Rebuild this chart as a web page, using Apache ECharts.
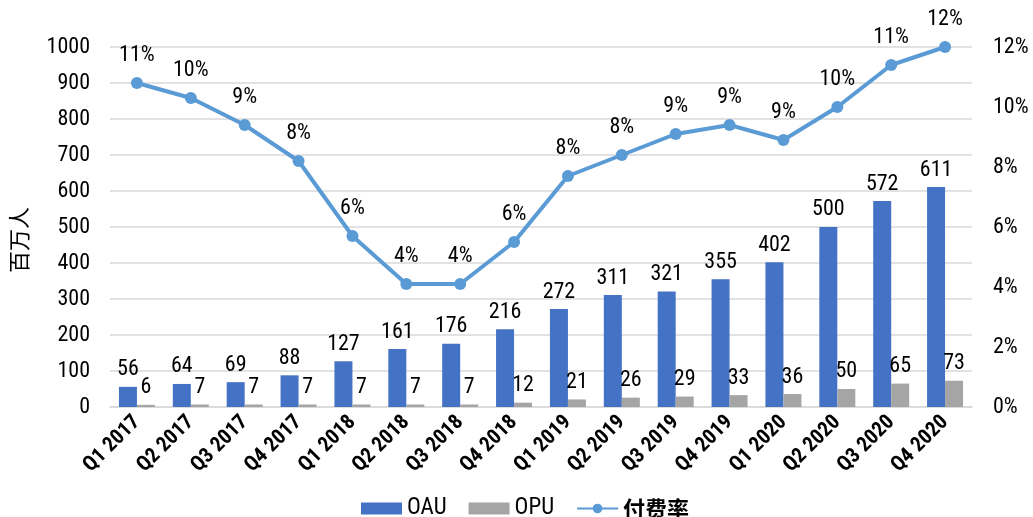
<!DOCTYPE html>
<html>
<head>
<meta charset="utf-8">
<script src="https://cdn.jsdelivr.net/npm/echarts@6/dist/echarts.min.js"></script>
<style>
  html, body { margin: 0; padding: 0; background: #fff; }
  #chart { width: 1033px; height: 517px; }
</style>
</head>
<body>
<div id="chart"></div>
<script>
// Quarterly users (millions) and paying ratio
const quarters = ['Q1 2017','Q2 2017','Q3 2017','Q4 2017','Q1 2018','Q2 2018','Q3 2018','Q4 2018',
                  'Q1 2019','Q2 2019','Q3 2019','Q4 2019','Q1 2020','Q2 2020','Q3 2020','Q4 2020'];
const oau = [56, 64, 69, 88, 127, 161, 176, 216, 272, 311, 321, 355, 402, 500, 572, 611];
const opu = [6, 7, 7, 7, 7, 7, 7, 12, 21, 26, 29, 33, 36, 50, 65, 73];
const payRate = [10.8, 10.3, 9.4, 8.2, 5.7, 4.1, 4.1, 5.5, 7.7, 8.4, 9.1, 9.4, 8.9, 10.0, 11.4, 12.0];

const FONT = '"Roboto Condensed", "Noto Sans CJK SC", sans-serif';
const CJK = '"Noto Sans CJK SC", sans-serif';

const txt = (size, extra) => Object.assign({
  fontFamily: FONT, fontSize: size, color: '#000'
}, extra || {});

const chart = echarts.init(document.getElementById('chart'));
chart.setOption({
  animation: false,
  textStyle: { fontFamily: FONT, color: '#000' },
  grid: { left: 108, right: 61, top: 47, bottom: 110 },
  legend: {
    top: 492,
    left: 356,
    itemGap: 22,
    itemWidth: 41,
    itemHeight: 12,
    textStyle: txt(23),
    data: [
      { name: 'OAU', icon: 'rect' },
      { name: 'OPU', icon: 'rect' },
      { name: '付费率', textStyle: { fontFamily: CJK, fontWeight: 'bold', fontSize: 22 } }
    ]
  },
  xAxis: {
    type: 'category',
    data: quarters,
    axisTick: { show: false },
    axisLine: { lineStyle: { color: '#d9d9d9', width: 1.5 } },
    axisLabel: txt(21, { rotate: 45, interval: 0, fontWeight: 'bold', margin: 12 })
  },
  yAxis: [
    {
      type: 'value',
      min: 0, max: 1000, interval: 100,
      name: '百万人',
      nameLocation: 'middle',
      nameRotate: 90,
      nameGap: 80,
      nameTextStyle: { fontSize: 22, fontFamily: CJK, color: '#000', padding: [0, 26, 0, 0] },
      axisLine: { show: false },
      axisTick: { show: false },
      axisLabel: txt(22, { margin: 20, formatter: v => String(v) }),
      splitLine: { lineStyle: { color: '#d9d9d9', width: 1.5 } }
    },
    {
      type: 'value',
      min: 0, max: 12, interval: 2,
      axisLine: { show: false },
      axisTick: { show: false },
      axisLabel: txt(22, { margin: 21, formatter: v => v + '%' }),
      splitLine: { show: false }
    }
  ],
  series: [
    {
      name: 'OAU', type: 'bar', data: oau,
      barWidth: 18, barGap: '0%',
      itemStyle: { color: '#4472C4' },
      label: txt(22, { show: true, position: 'top', distance: 6 })
    },
    {
      name: 'OPU', type: 'bar', data: opu,
      barWidth: 18,
      itemStyle: { color: '#A5A5A5' },
      label: txt(22, { show: true, position: 'top', distance: 6 })
    },
    {
      name: '付费率', type: 'line', yAxisIndex: 1, data: payRate,
      symbol: 'circle', symbolSize: 12,
      lineStyle: { color: '#5B9BD5', width: 4 },
      itemStyle: { color: '#5B9BD5' },
      label: txt(22, {
        show: true, position: 'top', distance: 10,
        formatter: p => Math.round(p.value) + '%'
      })
    }
  ]
});
</script>
</body>
</html>
